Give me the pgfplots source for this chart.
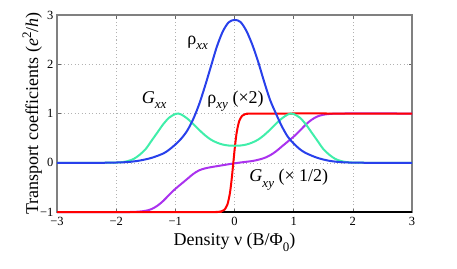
\documentclass[border=0pt]{standalone}
\usepackage{fontspec}
\setmainfont{Liberation Serif}
\usepackage{pgfplots}
\pgfplotsset{compat=1.18}
\definecolor{cblue}{RGB}{40,64,235}
\definecolor{cgreen}{RGB}{64,238,170}
\definecolor{cred}{RGB}{255,0,0}
\definecolor{cpurple}{RGB}{170,50,238}
\newcommand\lab{\fontsize{18}{20}\selectfont}
\newcommand\sub[1]{\raisebox{-5.5pt}{\fontsize{13}{13}\selectfont\itshape #1}}
\newcommand\super[1]{\raisebox{7pt}{\fontsize{13}{13}\selectfont #1}}
\begin{document}
\begin{tikzpicture}
\begin{axis}[name=ax, width=355pt, height=197pt, scale only axis,
  xmin=-3, xmax=3, ymin=-1, ymax=3, clip=false,
  xtick={-3,-2,-1,0,1,2,3}, xticklabels={−3,−2,−1,0,1,2,3},
  ytick={-1,0,1,2,3}, yticklabels={−1,0,1,2,3},
  tick label style={font=\rmfamily\fontsize{12.5}{14}\selectfont},
  xticklabel style={yshift=-2pt},
  grid=major, grid style={gray!60, line width=0.5pt, dash pattern=on 1pt off 2.5pt},
  axis line style={black!50, line width=1.2pt},
  tick style={black!60, line width=0.5pt}, major tick length=3.5pt, tick align=inside,
  xlabel={\lab Density ν (B/Φ\sub{\upshape 0})},
  xlabel style={at={(axis description cs:0.5,-0.171)}, anchor=base},
  every axis plot/.append style={line width=2pt, smooth, no markers}]
\draw[black, line width=1.1pt] (rel axis cs:0,0) -- (rel axis cs:1,0);
% G_xy (x1/2)
\addplot[cpurple] coordinates {(-3,-1) (-1.8,-1.0) (-1.7,-0.998) (-1.6,-0.99) (-1.5,-0.975) (-1.4,-0.94) (-1.3,-0.87) (-1.2,-0.77) (-1.1,-0.645) (-1.0,-0.53) (-0.9,-0.43) (-0.8,-0.33) (-0.7,-0.23) (-0.6,-0.155) (-0.5,-0.115) (-0.4,-0.09) (-0.3,-0.07) (-0.2,-0.05) (-0.1,-0.03) (0,-0.012) (0.1,0.005) (0.2,0.02) (0.3,0.035) (0.4,0.06) (0.5,0.095) (0.6,0.15) (0.7,0.23) (0.8,0.33) (0.9,0.43) (1.0,0.53) (1.1,0.645) (1.2,0.77) (1.3,0.87) (1.4,0.94) (1.5,0.975) (1.6,0.99) (1.7,0.998) (1.8,1.0) (3,1)};
% rho_xy (x2)
\addplot[cred] coordinates {(-3,-1) (-0.4,-1) (-0.32,-0.999) (-0.27,-0.996) (-0.22,-0.987) (-0.17,-0.954) (-0.12,-0.848) (-0.08,-0.635) (-0.05,-0.358) (-0.02,0) (0.01,0.358) (0.04,0.635) (0.08,0.848) (0.13,0.954) (0.18,0.987) (0.23,0.996) (0.28,0.999) (0.4,1) (3,1)};
% G_xx
\addplot[cgreen] coordinates {(-3,0) (-2.2,0) (-2.0,0.004) (-1.9,0.012) (-1.8,0.035) (-1.7,0.08) (-1.6,0.165) (-1.5,0.28) (-1.4,0.45) (-1.3,0.62) (-1.2,0.79) (-1.1,0.92) (-1.0,0.99) (-0.95,1.0) (-0.9,0.98) (-0.8,0.9) (-0.7,0.79) (-0.6,0.67) (-0.5,0.56) (-0.4,0.47) (-0.3,0.41) (-0.2,0.37) (-0.1,0.35) (0,0.345) (0.1,0.35) (0.2,0.37) (0.3,0.41) (0.4,0.47) (0.5,0.56) (0.6,0.67) (0.7,0.79) (0.8,0.9) (0.9,0.98) (0.95,1.0) (1.0,0.99) (1.1,0.92) (1.2,0.79) (1.3,0.62) (1.4,0.45) (1.5,0.28) (1.6,0.165) (1.7,0.08) (1.8,0.035) (1.9,0.012) (2.0,0.004) (2.2,0) (3,0)};
% rho_xx
\addplot[cblue] coordinates {(-3,0) (-2.2,0) (-2.0,0.005) (-1.8,0.015) (-1.6,0.045) (-1.4,0.1) (-1.2,0.19) (-1.1,0.27) (-1.0,0.37) (-0.9,0.49) (-0.8,0.65) (-0.7,0.88) (-0.6,1.18) (-0.5,1.55) (-0.4,1.95) (-0.3,2.35) (-0.2,2.66) (-0.1,2.85) (0,2.9) (0.1,2.86) (0.2,2.68) (0.3,2.4) (0.4,2.05) (0.5,1.65) (0.6,1.28) (0.7,1.0) (0.8,0.74) (0.9,0.53) (1.0,0.39) (1.1,0.28) (1.2,0.2) (1.4,0.1) (1.6,0.04) (1.8,0.012) (2.0,0.003) (2.2,0) (3,0)};
\node[anchor=base west, inner sep=0pt] at (axis cs:-0.80,2.41) {\lab ρ\sub{xx}};
\node[anchor=base west, inner sep=0pt] at (axis cs:-1.57,1.207) {\lab \textit{G}\sub{xx}};
\node[anchor=base west, inner sep=0pt] at (axis cs:-0.46,1.21) {\lab ρ\sub{xy} (×2)};
\node[anchor=base west, inner sep=0pt] at (axis cs:0.25,-0.39) {\lab \textit{G}\sub{xy} (× 1/2)};
\node[rotate=90, anchor=base, inner sep=0pt] at (rel axis cs:-0.0535,0.5) {\lab Transport coefficients (\textit{e}\super{2}/\textit{h})};
\end{axis}
\path ([xshift=-57pt,yshift=-56pt]ax.south west) rectangle ([xshift=45pt,yshift=15pt]ax.north east);
\end{tikzpicture}
\end{document}
